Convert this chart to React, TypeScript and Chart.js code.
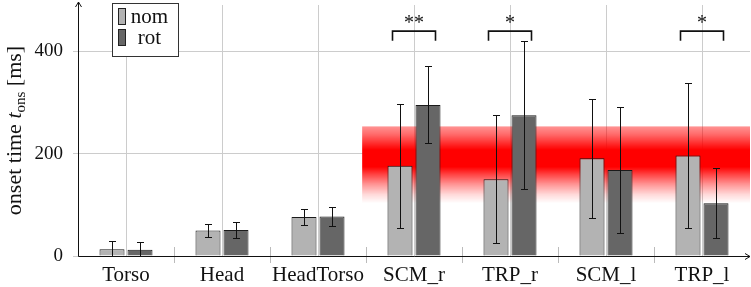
import React, { useEffect, useRef } from 'react';
import { Chart, registerables } from 'chart.js';
Chart.register(...registerables);

const categories = ['Torso', 'Head', 'HeadTorso', 'SCM_r', 'TRP_r', 'SCM_l', 'TRP_l'];
const nomMean = [13, 50, 76, 176, 150, 191, 196];
const nomSd = [17, 13, 15, 121, 125, 116, 142];
const rotMean = [12, 51, 77, 295, 275, 168, 103];
const rotSd = [16, 15, 18, 75, 144, 123, 68];
const yTicks = [0, 200, 400];
const sigCategories = ['SCM_r', 'TRP_r', 'TRP_l'];
const sigLabels = ['**', '*', '*'];
const sigBracketTop = 439;
const sigBracketLeg = 420;
const bandValues = [253, 236, 218, 207, 174, 160, 140, 120, 103];
const bandAlphas = [0.42, 0.6, 0.85, 1, 1, 0.75, 0.42, 0.15, 0];
const bandStartCategory = 'SCM_r';

const FONT = '"Liberation Serif", "Times New Roman", serif';
const NOM_COLOR = '#b3b3b3';
const ROT_COLOR = '#666666';

const customPlugin = {
  id: 'custom',
  beforeDatasetsDraw(chart: any) {
    const { ctx, chartArea: a, scales } = chart;
    const x = scales.x, y = scales.y;
    const k = categories.indexOf(bandStartCategory);
    const step = x.getPixelForValue(k + 1) - x.getPixelForValue(k);
    const left = x.getPixelForValue(k) - step * 0.54;
    const top = y.getPixelForValue(bandValues[0]);
    const bot = y.getPixelForValue(bandValues[bandValues.length - 1]);
    const g = ctx.createLinearGradient(0, top, 0, bot);
    bandValues.forEach((v: number, i: number) => {
      const f = (y.getPixelForValue(v) - top) / (bot - top);
      g.addColorStop(Math.min(1, Math.max(0, f)), `rgba(255,0,0,${bandAlphas[i]})`);
    });
    ctx.save();
    ctx.beginPath();
    ctx.rect(a.left, a.top, a.right - a.left, a.bottom - a.top);
    ctx.clip();
    ctx.fillStyle = g;
    ctx.fillRect(left, top, a.right - left, bot - top);
    ctx.restore();
  },
  afterDatasetsDraw(chart: any) {
    const { ctx, chartArea: a, scales } = chart;
    const x = scales.x, y = scales.y;
    const sds = [nomSd, rotSd];
    const means = [nomMean, rotMean];
    // error bars
    ctx.save();
    ctx.beginPath();
    ctx.rect(a.left, a.top, a.right - a.left, a.bottom - a.top);
    ctx.clip();
    ctx.strokeStyle = '#111';
    ctx.lineWidth = 1;
    for (let d = 0; d < 2; d++) {
      const meta = chart.getDatasetMeta(d);
      meta.data.forEach((el: any, j: number) => {
        const cx = Math.round(el.x) + 0.5;
        const yt = Math.round(y.getPixelForValue(means[d][j] + sds[d][j])) + 0.5;
        const yb = Math.round(y.getPixelForValue(means[d][j] - sds[d][j])) + 0.5;
        ctx.beginPath();
        ctx.moveTo(cx, yt); ctx.lineTo(cx, yb);
        ctx.moveTo(cx - 3.5, yt); ctx.lineTo(cx + 3.5, yt);
        ctx.moveTo(cx - 3.5, yb); ctx.lineTo(cx + 3.5, yb);
        ctx.stroke();
      });
    }
    ctx.restore();

    // separators between categories
    ctx.save();
    ctx.strokeStyle = '#bbbbbb';
    ctx.lineWidth = 1;
    for (let i = 0; i < categories.length - 1; i++) {
      const sx = Math.round((x.getPixelForValue(i) + x.getPixelForValue(i + 1)) / 2) + 0.5;
      ctx.beginPath();
      ctx.moveTo(sx, a.bottom - 9); ctx.lineTo(sx, a.bottom + 7);
      ctx.stroke();
    }
    ctx.restore();

    // axes
    ctx.save();
    ctx.strokeStyle = '#111';
    ctx.lineWidth = 1;
    const ax = Math.round(a.left) + 0.5;
    const ay = Math.round(a.bottom) + 0.5;
    ctx.beginPath();
    ctx.moveTo(ax, ay); ctx.lineTo(ax, a.top - 3);
    ctx.moveTo(ax - 3, a.top + 2); ctx.lineTo(ax, a.top - 3); ctx.lineTo(ax + 3, a.top + 2);
    ctx.moveTo(ax, ay); ctx.lineTo(a.right, ay);
    ctx.moveTo(a.right - 5, ay - 3); ctx.lineTo(a.right, ay); ctx.lineTo(a.right - 5, ay + 3);
    ctx.stroke();
    ctx.restore();

    // significance brackets
    ctx.save();
    ctx.strokeStyle = '#111';
    ctx.fillStyle = '#111';
    ctx.lineWidth = 1.6;
    ctx.font = `20px ${FONT}`;
    ctx.textAlign = 'center';
    ctx.textBaseline = 'alphabetic';
    const m0 = chart.getDatasetMeta(0), m1 = chart.getDatasetMeta(1);
    sigCategories.forEach((c, i) => {
      const j = categories.indexOf(c);
      const e0 = m0.data[j], e1 = m1.data[j];
      const l = e0.x - e0.width * 0.3;
      const r = e1.x + e1.width * 0.3;
      const yt = y.getPixelForValue(sigBracketTop);
      const yl = y.getPixelForValue(sigBracketLeg);
      ctx.beginPath();
      ctx.moveTo(l, yl); ctx.lineTo(l, yt); ctx.lineTo(r, yt); ctx.lineTo(r, yl);
      ctx.stroke();
      ctx.fillText(sigLabels[i], (l + r) / 2, yt - 2);
    });
    ctx.restore();

    // legend
    ctx.save();
    const bx = a.left + 34.5, by = a.top - 1.5, bw = 66, bh = 53;
    ctx.fillStyle = '#fff';
    ctx.fillRect(bx, by, bw, bh);
    ctx.strokeStyle = '#333';
    ctx.lineWidth = 1;
    ctx.strokeRect(bx, by, bw, bh);
    const items = chart.data.datasets;
    items.forEach((ds: any, i: number) => {
      const sy = by + 5 + i * 21;
      ctx.fillStyle = ds.backgroundColor;
      ctx.fillRect(bx + 6, sy, 7, 16);
      ctx.strokeStyle = '#222';
      ctx.strokeRect(bx + 6, sy, 7, 16);
      ctx.fillStyle = '#111';
      ctx.font = `21px ${FONT}`;
      ctx.textAlign = 'center';
      ctx.textBaseline = 'alphabetic';
      ctx.fillText(ds.label, bx + 37, sy + 14.5);
    });
    ctx.restore();
  },
  afterDraw(chart: any) {
    const { ctx, chartArea: a } = chart;
    const parts = [
      { t: 'onset time ', f: `22px ${FONT}`, dy: 0 },
      { t: 't', f: `italic 22px ${FONT}`, dy: 0 },
      { t: 'ons', f: `15px ${FONT}`, dy: 4 },
      { t: ' [ms]', f: `22px ${FONT}`, dy: 0 },
    ];
    ctx.save();
    let total = 0;
    const widths = parts.map((p) => { ctx.font = p.f; const w = ctx.measureText(p.t).width; total += w; return w; });
    ctx.translate(21, (a.top + a.bottom) / 2);
    ctx.rotate(-Math.PI / 2);
    ctx.fillStyle = '#111';
    ctx.textBaseline = 'alphabetic';
    ctx.textAlign = 'left';
    let cx = -total / 2;
    parts.forEach((p, i) => {
      ctx.font = p.f;
      ctx.fillText(p.t, cx, p.dy);
      cx += widths[i];
    });
    ctx.restore();
  },
};

export default function App() {
  const ref = useRef<HTMLCanvasElement>(null);
  useEffect(() => {
    const canvas = ref.current!;
    const chart = new Chart(canvas, {
      type: 'bar',
      data: {
        labels: categories,
        datasets: [
          { label: 'nom', data: nomMean, backgroundColor: NOM_COLOR, borderColor: '#1a1a1a', borderWidth: 1, barPercentage: 0.893, categoryPercentage: 0.5833 },
          { label: 'rot', data: rotMean, backgroundColor: ROT_COLOR, borderColor: '#1a1a1a', borderWidth: 1, barPercentage: 0.893, categoryPercentage: 0.5833 },
        ],
      },
      options: {
        responsive: false,
        animation: false,
        events: [],
        layout: { padding: { top: 5, right: 1, left: 0, bottom: 0 } },
        plugins: { legend: { display: false }, tooltip: { enabled: false }, title: { display: false } },
        scales: {
          x: {
            offset: true,
            grid: { offset: false, color: '#cccccc', drawTicks: false },
            border: { display: false },
            ticks: { font: { family: FONT, size: 21 }, color: '#111', padding: 7, maxRotation: 0, autoSkip: false },
            afterFit: (s: any) => { s.height = 31; s.paddingLeft = 0; s.paddingRight = 0; },
          },
          y: {
            min: 0,
            max: 490,
            grid: { color: '#cccccc', tickLength: 5 },
            border: { display: false },
            ticks: { font: { family: FONT, size: 19 }, color: '#111', padding: 10 },
            afterBuildTicks: (s: any) => { s.ticks = yTicks.map((v) => ({ value: v })); },
            afterFit: (s: any) => { s.width = 78; s.paddingTop = 0; s.paddingBottom = 0; },
          },
        },
      } as any,
      plugins: [customPlugin],
    });
    return () => chart.destroy();
  }, []);
  return (
    <div style={{ position: 'fixed', left: 0, top: 0, width: 751, height: 287, background: '#fff' }}>
      <canvas ref={ref} width={751} height={287} style={{ display: 'block' }} />
    </div>
  );
}
